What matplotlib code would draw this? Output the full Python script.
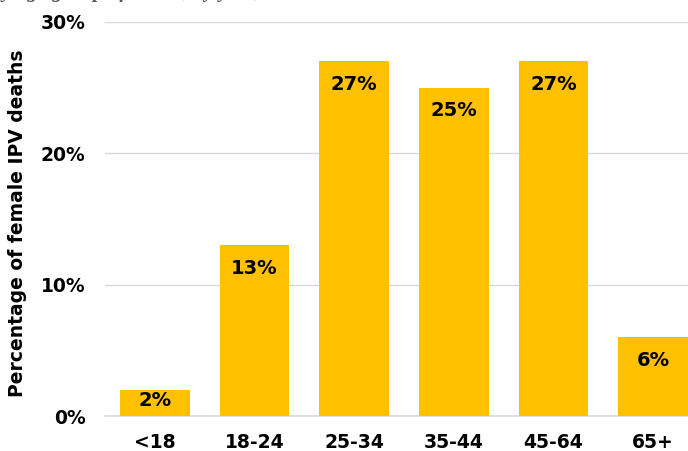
import matplotlib
matplotlib.use("Agg")
import matplotlib.pyplot as plt
from matplotlib.ticker import FuncFormatter

# data
age_groups = ["<18", "18-24", "25-34", "35-44", "45-64", "65+"]
pct_deaths = [2, 13, 27, 25, 27, 6]
y_ticks = [0, 10, 20, 30]

bar_color = "#FFC000"
grid_color = "#D9D9D9"

plt.rcParams['font.family'] = ['DejaVu Sans']

fig = plt.figure(figsize=(6.88, 4.51), dpi=100)
# the chart runs off the right edge of the picture, as in the reference
ax = fig.add_axes([105 / 688, 35 / 451, 598 / 688, 394 / 451])

xs = range(len(age_groups))
bars = ax.bar(xs, pct_deaths, width=0.70, color=bar_color, zorder=3)

# value labels sit just inside the bar top (nearly centred when the bar is short)
for b, v in zip(bars, pct_deaths):
    ax.text(b.get_x() + b.get_width() / 2, v - min(1.75, v * 0.4), f"{v}%",
            ha="center", va="center", fontsize=14, fontweight="bold",
            color="black", zorder=4)

ax.set_xlim(-0.5, len(age_groups) - 0.5)
ax.set_ylim(0, 30)
ax.set_yticks(y_ticks)
ax.yaxis.set_major_formatter(FuncFormatter(lambda v, p: f"{int(v)}%"))
ax.set_xticks(list(xs))
ax.set_xticklabels(age_groups)

ax.grid(axis="y", color=grid_color, linewidth=1, zorder=0)
ax.set_axisbelow(True)
for s in ["top", "right", "left"]:
    ax.spines[s].set_visible(False)
ax.spines["bottom"].set_color(grid_color)
ax.spines["bottom"].set_linewidth(1.2)

ax.tick_params(axis="both", length=0, labelsize=13.5)
ax.tick_params(axis="y", pad=14)
ax.tick_params(axis="x", pad=12)
for t in ax.get_xticklabels() + ax.get_yticklabels():
    t.set_fontweight("bold")

ax.set_ylabel("Percentage of female IPV deaths", fontsize=13.5,
              fontweight="bold")
ax.yaxis.set_label_coords(-78 / 598, 0.49)

# title that is cut off at the top of the reference, only descenders show
fig.text(-0.012, 1.0 + 3.0 / 451, "by age group of victim, by year, 2012",
         family=["Liberation Serif", "DejaVu Serif"], fontsize=15,
         fontweight="bold", style="italic", color="#595959",
         ha="left", va="baseline")

fig.savefig("out.png", dpi=100)
